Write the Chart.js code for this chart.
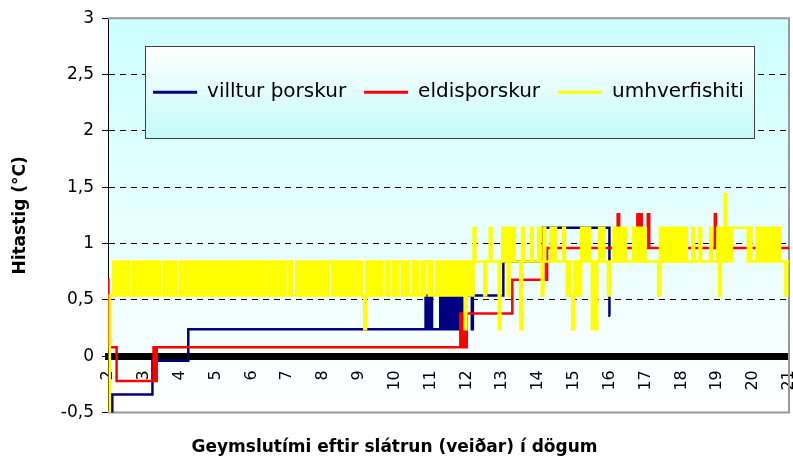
<!DOCTYPE html>
<html lang="is">
<head>
<meta charset="utf-8">
<title>Hitastig</title>
<script src="https://cdn.jsdelivr.net/npm/chart.js@4.4.1/dist/chart.umd.min.js"></script>
<style>
  html, body { margin: 0; padding: 0; background: #fff; }
  #graf { display: block; }
</style>
</head>
<body>
<canvas id="graf" width="793" height="461"></canvas>
<script>
// heiti ferla
var heitiFerla = ['villtur þorskur', 'eldisþorskur', 'umhverfishiti'];

// villtur þorskur - dagur og hiti þar sem gildið breytist
var villturDagar = [2.08, 2.12, 3.24, 4.24, 10.86, 10.90, 10.94, 10.98, 11.02, 11.04,
	11.27, 11.31, 11.35, 11.39, 11.43, 11.47, 11.51, 11.55, 11.59, 11.63, 11.67, 11.71,
	11.75, 11.78, 11.84, 11.87, 11.90, 11.93, 11.97, 12.15, 12.18, 13.03, 14.14, 15.99, 16.01];
var villturHiti = [-0.60, -0.34, -0.04, 0.24, 0.54, 0.24, 0.54, 0.24, 0.54, 0.24,
	0.54, 0.24, 0.54, 0.24, 0.54, 0.24, 0.54, 0.24, 0.54, 0.24, 0.54, 0.24,
	0.54, 0.24, 0.54, 0.24, 0.54, 0.24, 0.54, 0.24, 0.54, 0.84, 1.14, 0.36, 0.36];

// eldisþorskur
var eldisDagar = [2.00, 2.01, 2.24, 3.27, 3.29, 3.31, 3.33, 3.36, 11.83, 11.86, 11.89, 11.92,
	11.95, 11.98, 12.01, 13.28, 14.15, 14.18, 14.21, 14.23, 14.25, 16.22, 16.26, 16.77, 16.80,
	16.83, 16.89, 17.06, 17.10, 18.93, 18.96, 21.00];
var eldisHiti = [0.68, 0.08, -0.22, 0.08, -0.22, 0.08, -0.22, 0.08, 0.38, 0.08, 0.38, 0.08,
	0.38, 0.08, 0.38, 0.68, 0.96, 0.68, 0.96, 0.68, 0.96, 1.26, 0.96, 1.26, 0.96,
	1.26, 0.96, 1.26, 0.96, 1.26, 0.96, 0.96];

// umhverfishiti - mælt á 0,05 daga fresti frá degi 2
var umhverfiFyrstiDagur = 2.0;
var umhverfiBil = 0.05;
var umhverfiHiti = [
	// 2
	-0.53, 0.54, 0.54, 0.84, 0.54, 0.84, 0.54, 0.84, 0.54, 0.84, 0.54, 0.84, 0.54, 0.54, 0.84, 0.54, 0.84, 0.54, 0.84, 0.54,
	// 3
	0.84, 0.54, 0.84, 0.54, 0.84, 0.54, 0.84, 0.54, 0.84, 0.54, 0.54, 0.84, 0.54, 0.84, 0.54, 0.84, 0.54, 0.84, 0.54, 0.54,
	// 4
	0.84, 0.54, 0.84, 0.54, 0.84, 0.54, 0.84, 0.54, 0.84, 0.54, 0.84, 0.54, 0.84, 0.54, 0.84, 0.54, 0.84, 0.54, 0.84, 0.54,
	// 5
	0.84, 0.54, 0.84, 0.54, 0.84, 0.54, 0.84, 0.54, 0.84, 0.54, 0.84, 0.54, 0.84, 0.54, 0.84, 0.54, 0.84, 0.54, 0.84, 0.54,
	// 6
	0.84, 0.54, 0.84, 0.54, 0.84, 0.54, 0.84, 0.54, 0.84, 0.84, 0.54, 0.84, 0.54, 0.84, 0.54, 0.84, 0.54, 0.84, 0.54, 0.84,
	// 7
	0.84, 0.54, 0.84, 0.54, 0.54, 0.84, 0.54, 0.84, 0.54, 0.84, 0.54, 0.84, 0.54, 0.84, 0.54, 0.84, 0.54, 0.84, 0.54, 0.84,
	// 8
	0.54, 0.84, 0.54, 0.84, 0.84, 0.54, 0.84, 0.54, 0.84, 0.54, 0.84, 0.54, 0.84, 0.54, 0.84, 0.54, 0.84, 0.84, 0.54, 0.84,
	// 9
	0.54, 0.84, 0.54, 0.24, 0.84, 0.54, 0.84, 0.54, 0.84, 0.54, 0.84, 0.54, 0.84, 0.54, 0.54, 0.84, 0.54, 0.84, 0.84, 0.54,
	// 10
	0.84, 0.54, 0.84, 0.84, 0.54, 0.84, 0.54, 0.84, 0.54, 0.54, 0.84, 0.54, 0.84, 0.54, 0.54, 0.84, 0.54, 0.84, 0.84, 0.54,
	// 11
	0.84, 0.54, 0.54, 0.84, 0.54, 0.54, 0.84, 0.54, 0.84, 0.54, 0.84, 0.54, 0.84, 0.54, 0.84, 0.54, 0.84, 0.54, 0.84, 0.24,
	// 12
	0.84, 0.54, 0.84, 0.54, 1.14, 0.84, 0.84, 0.84, 0.84, 0.84, 0.54, 0.84, 0.84, 1.14, 0.84, 0.84, 0.84, 0.84, 0.24, 0.84,
	// 13
	1.14, 0.84, 1.14, 0.54, 1.14, 0.84, 1.14, 0.84, 0.84, 0.84, 0.24, 1.14, 0.84, 0.84, 0.84, 0.84, 1.14, 0.84, 0.84, 0.84,
	// 14
	1.14, 0.84, 0.54, 1.14, 0.84, 0.84, 0.84, 1.14, 0.84, 1.14, 0.84, 0.84, 0.84, 0.84, 1.14, 0.84, 0.54, 0.84, 0.54, 0.24,
	// 15
	0.84, 0.54, 0.84, 0.54, 1.14, 0.84, 1.14, 0.84, 1.14, 0.84, 0.24, 0.84, 0.24, 0.84, 1.14, 0.84, 1.14, 0.84, 0.84, 0.54,
	// 16
	0.84, 0.84, 1.14, 0.84, 1.14, 0.84, 1.14, 0.84, 1.14, 0.84, 0.84, 0.84, 0.84, 1.14, 0.84, 1.14, 0.84, 1.14, 0.84, 1.14,
	// 17
	0.84, 0.84, 0.84, 0.84, 0.84, 0.84, 0.84, 0.54, 1.14, 0.84, 1.14, 0.84, 1.14, 0.84, 1.14, 0.84, 1.14, 0.84, 1.14, 0.84,
	// 18
	1.14, 0.84, 1.14, 0.84, 0.84, 0.84, 1.14, 0.84, 0.84, 0.84, 1.14, 0.84, 0.84, 0.84, 0.84, 0.84, 1.14, 0.84, 0.84, 0.84,
	// 19
	1.14, 0.54, 1.14, 0.84, 1.44, 0.84, 1.14, 0.84, 1.14, 1.14, 1.14, 1.14, 1.14, 1.14, 1.14, 1.14, 1.14, 0.84, 1.14, 0.84,
	// 20
	0.84, 0.84, 1.14, 0.84, 1.14, 0.84, 1.14, 0.84, 1.14, 0.84, 1.14, 0.84, 1.14, 0.84, 1.14, 0.84, 0.84, 0.84, 0.54, 0.84,
	// 21
	0.84
];

// ásar
var xMin = 2, xMax = 21, xSkref = 1;
var yMin = -0.5, yMax = 3, ySkref = 0.5;
var xTitill = 'Geymslutími eftir slátrun (veiðar) í dögum';
var yTitill = 'Hitastig (°C)';

// para saman dag og hita
function punktar(dagar, hiti) {
	return dagar.map(function(d, i) { return { x: d, y: hiti[i] }; });
}
var umhverfiPunktar = umhverfiHiti.map(function(h, i) {
	return { x: umhverfiFyrstiDagur + i * umhverfiBil, y: h };
});

///////////////////////////////////////////////////////////////////////////////
// bakgrunnur, rammi og kassi utan um skýringar
///////////////////////////////////////////////////////////////////////////////
var bakgrunnur = {
	id: 'bakgrunnur',
	// skýringar í einni línu inni í teiknisvæðinu
	beforeLayout: function(chart) {
		if (chart.legend) chart.legend.isHorizontal = function() { return true; };
	},
	afterLayout: function(chart) {
		var lg = chart.legend, a = chart.chartArea;
		if (lg) { lg.left = a.left; lg.right = a.right; lg.top = a.top; lg.bottom = a.bottom; }
	},
	beforeDraw: function(chart) {
		var ctx = chart.ctx, a = chart.chartArea;
		var g = ctx.createLinearGradient(0, a.top, 0, a.bottom);
		g.addColorStop(0, '#ccffff');
		g.addColorStop(1, '#ffffff');
		ctx.save();
		ctx.fillStyle = g;
		ctx.fillRect(a.left, a.top, a.right - a.left, a.bottom - a.top);
		ctx.restore();
	},
	beforeDatasetsDraw: function(chart) {
		var ctx = chart.ctx, a = chart.chartArea;
		ctx.save();
		// rammi
		ctx.strokeStyle = '#999999';
		ctx.lineWidth = 2;
		ctx.beginPath();
		ctx.moveTo(a.left, a.top);
		ctx.lineTo(a.right, a.top);
		ctx.lineTo(a.right, a.bottom);
		ctx.lineTo(a.left, a.bottom);
		ctx.stroke();
		// kassi fyrir skýringar
		var hb = chart.legend && chart.legend.legendHitBoxes;
		if (hb && hb.length) {
			var fyrsti = hb[0], sidasti = hb[hb.length - 1];
			var midja = fyrsti.top + fyrsti.height / 2;
			var x0 = fyrsti.left - 8, x1 = sidasti.left + sidasti.width + 10;
			var y0 = midja - 46, y1 = midja + 46;
			var g2 = ctx.createLinearGradient(0, y0, 0, y1);
			g2.addColorStop(0, '#ffffff');
			g2.addColorStop(1, '#c4fafa');
			ctx.fillStyle = g2;
			ctx.fillRect(x0, y0, x1 - x0, y1 - y0);
			ctx.strokeStyle = '#404040';
			ctx.lineWidth = 1;
			ctx.strokeRect(Math.round(x0) + 0.5, Math.round(y0) + 0.5, Math.round(x1 - x0), Math.round(y1 - y0));
		}
		ctx.restore();
		// teikna skýringarnar aftur ofan á kassann
		if (chart.legend) chart.legend.draw();
	}
};

var letur = 'DejaVu Sans';

var myChartHiti = new Chart(document.getElementById('graf'), {
	type: 'line',
	data: {
		datasets: [{
			label: heitiFerla[0],
			data: punktar(villturDagar, villturHiti),
			borderColor: '#000080',
			backgroundColor: '#000080',
			borderWidth: 2.5,
			stepped: true,
			pointRadius: 0,
			order: 2
		}, {
			label: heitiFerla[1],
			data: punktar(eldisDagar, eldisHiti),
			borderColor: '#ff0000',
			backgroundColor: '#ff0000',
			borderWidth: 2.5,
			stepped: true,
			pointRadius: 0,
			order: 1
		}, {
			label: heitiFerla[2],
			data: umhverfiPunktar,
			borderColor: '#ffff00',
			backgroundColor: '#ffff00',
			borderWidth: 2.5,
			stepped: true,
			pointRadius: 0,
			order: 0
		}]
	},
	options: {
		responsive: false,
		animation: false,
		events: [],
		layout: { padding: { top: 18, right: 4, left: 0, bottom: 0 } },
		scales: {
			x: {
				type: 'linear',
				min: xMin,
				max: xMax,
				position: { y: 0 },
				afterFit: function(s) { s.height = 0; s.paddingLeft = 0; s.paddingRight = 0; },
				grid: { display: false, drawTicks: false },
				border: { display: true, color: '#000000', width: 7 },
				ticks: {
					stepSize: xSkref,
					autoSkip: false,
					minRotation: 90,
					maxRotation: 90,
					padding: 14,
					color: '#000000',
					font: { family: letur, size: 16 }
				}
			},
			y: {
				min: yMin,
				max: yMax,
				afterFit: function(s) { s.width = 108; },
				ticks: {
					stepSize: ySkref,
					padding: 8,
					color: '#000000',
					font: { family: letur, size: 17 },
					callback: function(v) { return String(v).replace('.', ','); }
				},
				grid: {
					color: function(c) {
						var v = c.tick ? c.tick.value : null;
						return (v === yMin || v === yMax) ? 'rgba(0,0,0,0)' : '#000000';
					},
					tickColor: '#000000',
					tickLength: 6,
					tickBorderDash: [],
					lineWidth: 1
				},
				border: { color: '#000000', width: 1, dash: [6, 5] },
				title: {
					display: true,
					text: yTitill,
					color: '#000000',
					font: { family: letur, size: 17, weight: 'bold', lineHeight: 1.2 },
					padding: { top: 10, bottom: 0 }
				}
			}
		},
		plugins: {
			legend: {
				position: 'chartArea',
				align: 'center',
				title: { display: true, text: '', font: { size: 10, lineHeight: 1 }, padding: { top: 36, bottom: 0 } },
				labels: {
					boxWidth: 44,
					boxHeight: 3,
					padding: 18,
					color: '#000000',
					font: { family: letur, size: 20 },
					generateLabels: function(chart) {
						var items = Chart.defaults.plugins.legend.labels.generateLabels(chart);
						items.sort(function(a, b) { return a.datasetIndex - b.datasetIndex; });
						items.forEach(function(it) { it.fillStyle = it.strokeStyle; it.lineWidth = 0; });
						return items;
					}
				}
			},
			title: {
				display: true,
				position: 'bottom',
				text: xTitill,
				color: '#000000',
				font: { family: letur, size: 17, weight: 'bold', lineHeight: 1.2 },
				padding: { top: 25, bottom: 3 }
			},
			tooltip: { enabled: false }
		}
	},
	plugins: [bakgrunnur]
});
</script>
</body>
</html>
